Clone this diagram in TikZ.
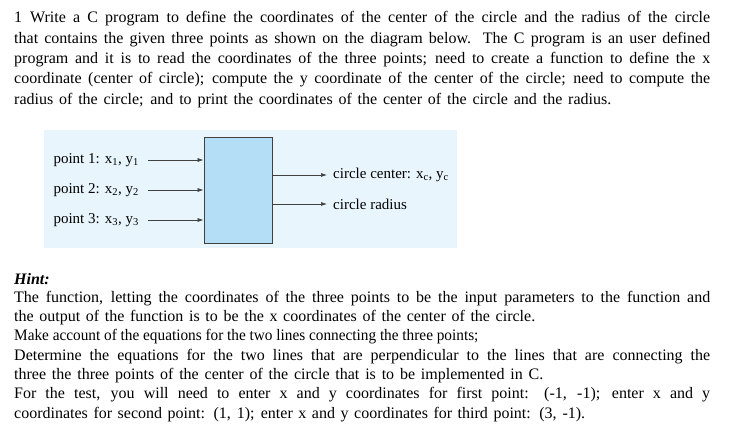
\documentclass[tikz,border=0pt]{standalone}
\usepackage{fontspec}
\usepackage{graphicx}
\setmainfont{Liberation Serif}
\usetikzlibrary{arrows.meta}
\definecolor{panel}{HTML}{E8F5FC}
\definecolor{boxc}{HTML}{B3DEF6}
\newcommand{\jl}[1]{\makebox[696pt][s]{#1}}
\newcommand{\wl}[2]{\makebox[#1pt][s]{#2}}
\begin{document}
\begin{tikzpicture}[x=1pt,y=-1pt,
  txt/.style={anchor=base west,inner sep=0pt,font=\fontsize{16}{18}\selectfont},
  lab/.style={inner sep=0pt,font=\fontsize{15}{17}\selectfont},
  arr/.style={-{Latex[length=6pt,width=4pt]},line width=0.7pt,draw=black!75}]
\useasboundingbox (0,0) rectangle (750,435);
\node[txt] (l1) at (14,23) {\jl{1\hspace{0.5em}Write a C program to define the coordinates of the center of the circle and the radius of the circle}};
\node[txt] (l2) at (14,44) {\jl{that contains the given three points as shown on the diagram below. The C program is an user defined}};
\node[txt] (l3) at (14,64) {\jl{program and it is to read the coordinates of the three points; need to create a function to define the x}};
\node[txt] (l4) at (14,84) {\jl{coordinate (center of circle); compute the y coordinate of the center of the circle; need to compute the}};
\node[txt] (l5) at (14,105) {\wl{597}{radius of the circle; and to print the coordinates of the center of the circle and the radius.}};

\fill[panel] (44,130) rectangle (457,248);
\node[draw=black!75,fill=boxc,line width=0.8pt,minimum width=68pt,minimum height=106pt,inner sep=0pt] (f) at (238,190) {};
\node[lab,anchor=east] (p1) at (139,160) {point 1: x\textsubscript{1}, y\textsubscript{1}};
\node[lab,anchor=east] (p2) at (139,190) {point 2: x\textsubscript{2}, y\textsubscript{2}};
\node[lab,anchor=east] (p3) at (139,220) {point 3: x\textsubscript{3}, y\textsubscript{3}};
\draw[arr] ([xshift=9pt]p1.east) -- (f.west |- p1.east);
\draw[arr] ([xshift=9pt]p2.east) -- (f.west |- p2.east);
\draw[arr] ([xshift=9pt]p3.east) -- (f.west |- p3.east);
\node[lab,anchor=west] (c1) at (333,175) {circle center: x\textsubscript{c}, y\textsubscript{c}};
\node[lab,anchor=west] (c2) at (333,204) {circle radius};
\draw[arr] (f.east |- c1.west) -- ([xshift=-6pt]c1.west);
\draw[arr] (f.east |- c2.west) -- ([xshift=-6pt]c2.west);

\node[txt,font=\fontsize{16}{18}\selectfont\bfseries\itshape] (h) at (14,285) {Hint:};
\node[txt] (h1) at (14,303) {\jl{The function, letting the coordinates of the three points to be the input parameters to the function and}};
\node[txt] (h2) at (14,322) {\wl{521}{the output of the function is to be the x coordinates of the center of the circle.}};
\node[txt] (h3) at (14,341) {\scalebox{0.955}[1]{Make account of the equations for the two lines connecting the three points;}};
\node[txt] (h4) at (14,361) {\jl{Determine the equations for the two lines that are perpendicular to the lines that are connecting the}};
\node[txt] (h5) at (14,380) {\wl{529}{three the three points of the center of the circle that is to be implemented in C.}};
\node[txt] (h6) at (14,399) {\jl{For the test, you will need to enter x and y coordinates for first point: (-1, -1); enter x and y}};
\node[txt] (h7) at (14,419) {\wl{571}{coordinates for second point: (1, 1); enter x and y coordinates for third point: (3, -1).}};
\end{tikzpicture}
\end{document}
